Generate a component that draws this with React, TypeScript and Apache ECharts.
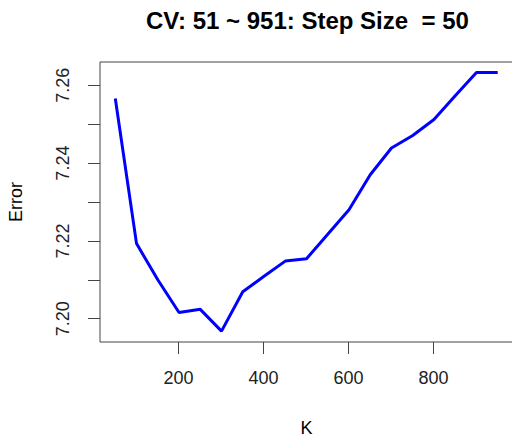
import React, { useEffect, useRef } from "react";
import * as echarts from "echarts";

const kValues = [51, 101, 151, 201, 251, 301, 351, 401, 451, 501, 551, 601, 651, 701, 751, 801, 851, 901, 951];
const errorValues = [7.2566, 7.2193, 7.2100, 7.2016, 7.2024, 7.1968, 7.2069, 7.2109, 7.2148, 7.2154, 7.2217, 7.2280, 7.2370, 7.2439, 7.2471, 7.2512, 7.2573, 7.2633, 7.2633];
const xTicks = [200, 400, 600, 800];
const yTicks = [7.2, 7.21, 7.22, 7.23, 7.24, 7.25, 7.26];
const yLabels = [7.2, 7.22, 7.24, 7.26];
const titleText = "CV: 51 ~ 951: Step Size  = 50";

export default function App() {
  const ref = useRef<HTMLDivElement>(null);
  useEffect(() => {
    document.body.style.margin = "0";
    const chart = echarts.init(ref.current!, null, { renderer: "svg" });
    const font = "'Liberation Sans', Arial, Helvetica, sans-serif";
    chart.setOption({
      animation: false,
      backgroundColor: "#ffffff",
      title: {
        text: titleText,
        left: 141,
        top: 3,
        textStyle: { fontFamily: font, fontWeight: "bold", fontSize: 24, color: "#000" },
      },
      grid: {
        left: 100,
        top: 62,
        width: 413,
        height: 280,
        show: true,
        borderColor: "#444",
        borderWidth: 1,
        backgroundColor: "transparent",
        containLabel: false,
        outerBoundsMode: "none",
      },
      xAxis: {
        type: "value",
        min: 15,
        max: 987,
        name: "K",
        nameLocation: "middle",
        nameGap: 77,
        nameTextStyle: { fontFamily: font, fontSize: 18, color: "#000" },
        axisLine: { show: false },
        splitLine: { show: false },
        axisTick: { show: true, customValues: xTicks, length: 12, inside: false, lineStyle: { color: "#444", width: 1 } },
        axisLabel: {
          customValues: xTicks,
          margin: 27,
          fontFamily: font,
          fontSize: 18,
          color: "#222",
        },
      },
      yAxis: {
        type: "value",
        min: 7.194,
        max: 7.266,
        name: "Error",
        nameLocation: "middle",
        nameGap: 75,
        nameRotate: 90,
        nameTextStyle: { fontFamily: font, fontSize: 18, color: "#000" },
        axisLine: { show: false },
        splitLine: { show: false },
        axisTick: { show: true, customValues: yTicks, length: 12, inside: false, lineStyle: { color: "#444", width: 1 } },
        axisLabel: {
          customValues: yLabels,
          rotate: 90,
          margin: 28,
          fontFamily: font,
          fontSize: 18,
          color: "#222",
          formatter: (v: number) => v.toFixed(2),
        },
      },
      series: [
        {
          type: "line",
          data: kValues.map((k, i) => [k, errorValues[i]]),
          showSymbol: false,
          symbol: "none",
          lineStyle: { color: "#0000ff", width: 3 },
        },
      ],
    });
    return () => chart.dispose();
  }, []);
  return <div ref={ref} style={{ position: "absolute", left: 0, top: 0, width: 512, height: 440 }} />;
}
